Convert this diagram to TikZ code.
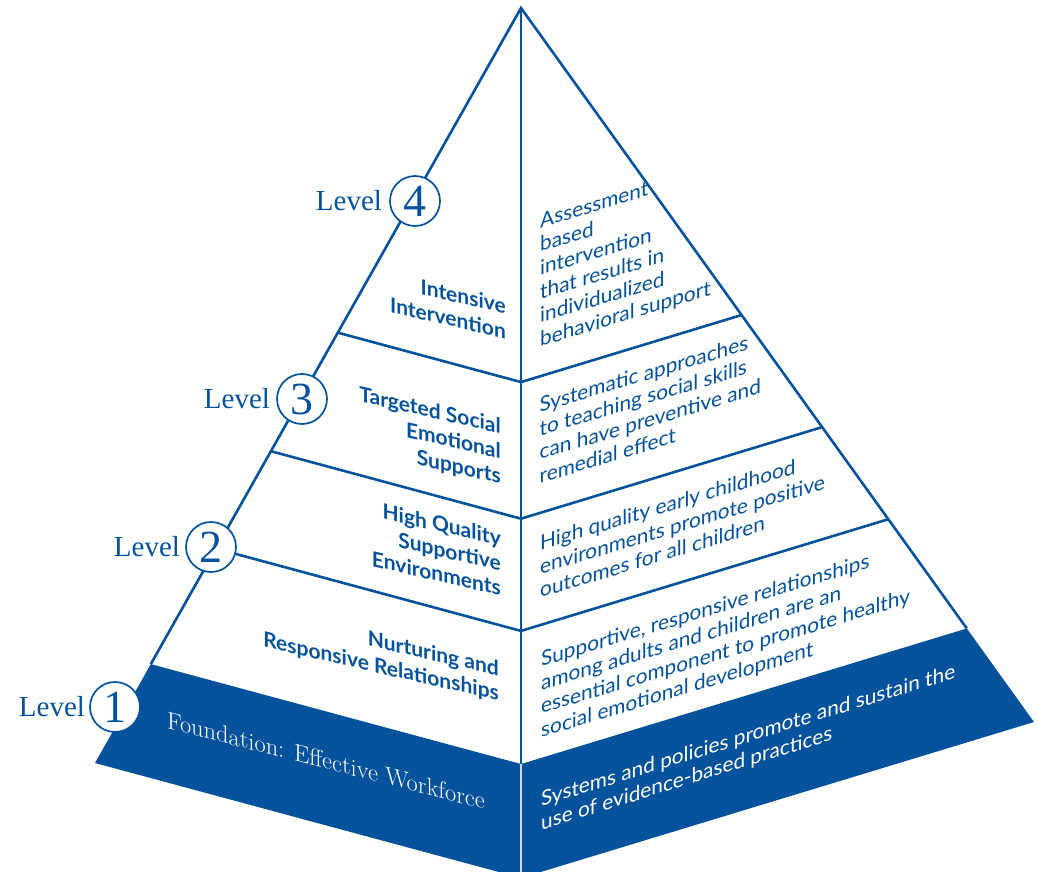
\documentclass[tikz,border=0pt]{standalone}
\usepackage{fontspec}
\setsansfont{Lato}
\newfontfamily\levelfont{Liberation Serif}
\usetikzlibrary{calc,positioning}
\definecolor{pyrblue}{RGB}{5,82,156}
\tikzset{
  edge/.style={draw=pyrblue, line width=2.6pt, line join=miter},
  levelnum/.style={circle, draw=pyrblue, fill=white, line width=1.7pt, minimum size=50pt, inner sep=0pt, text=pyrblue, font=\levelfont\fontsize{46}{46}\selectfont},
  leveltext/.style={text=pyrblue, inner sep=0pt, font=\levelfont\fontsize{29}{30}\selectfont},
  tiername/.style={text=pyrblue, inner sep=0pt, align=right, anchor=north east, yslant=-0.23, font=\sffamily\bfseries\fontsize{21}{25}\selectfont},
  tierinfo/.style={text=pyrblue, inner sep=0pt, align=left, anchor=north west, yslant=#1, font=\sffamily\fontsize{20.8}{23.7}\selectfont},
  tierinfo/.default=0.3,
}
\begin{document}
\begin{tikzpicture}[x=1pt, y=-1pt]
    \useasboundingbox (0,0) rectangle (1038,872);

    % Corners
    \coordinate (top) at (521,8);
    \coordinate (left) at (95,763);
    \coordinate (front) at (521,878);
    \coordinate (right) at (1034,722);

    % Foundation
    \fill[pyrblue] ($(top)!0.869!(left)$) -- (left) -- (front) -- ($(top)!0.869!(front)$) -- cycle;
    \fill[pyrblue] ($(top)!0.869!(front)$) -- (front) -- (right) -- ($(top)!0.869!(right)$) -- cycle;
    \draw[white!80!pyrblue, line width=1.2pt] ($(top)!0.869!(front)$) -- (front);

    % Outline
    \draw[edge] ($(top)!0.869!(left)$) -- (top) -- ($(top)!0.869!(right)$);
    \draw[edge] (top) -- ($(top)!0.869!(front)$);

    % Tiers
    \foreach \t in {0.43,0.587,0.716}
        \draw[edge] ($(top)!\t!(left)$) -- ($(top)!\t!(front)$) -- ($(top)!\t!(right)$);

    % Levels
    \node[levelnum] (n4) at (415,201) {4};
    \node[leveltext, left=7pt of n4] (l4) {Level};
    \node[levelnum] (n3) at (302,399) {3};
    \node[leveltext, left=6pt of n3] (l3) {Level};
    \node[levelnum] (n2) at (211,547) {2};
    \node[leveltext, left=5pt of n2] (l2) {Level};
    \node[levelnum] (n1) at (115,707) {1};
    \node[leveltext, left=4pt of n1] (l1) {Level};

    % Names of the tiers
    \node[tiername] (name4) at (506,298) {Intensive\\Intervention};
    \node[tiername] (name3) at (501,418) {Targeted Social\\Emotional\\Supports};
    \node[tiername] (name2) at (501,530) {High Quality\\Supportive\\Environments};
    \node[tiername] (name1) at (499,660) {Nurturing and\\Responsive Relationships};
    \node[text=white, inner sep=0pt, anchor=north west, yslant=-0.255, font=\fontsize{24.4}{28}\selectfont] (name0) at (167,711) {Foundation: Effective Workforce};

    % What each tier does
    \node[tierinfo] (info4) at (540,213) {Assessment\\based\\intervention\\that results in\\individualized\\behavioral support};
    \node[tierinfo] (info3) at (539.5,397) {Systematic approaches\\to teaching social skills\\can have preventive and\\remedial effect};
    \node[tierinfo] (info2) at (540,535) {High quality early childhood\\environments promote positive\\outcomes for all children};
    \node[tierinfo] (info1) at (541,651) {Supportive, responsive relationships\\among adults and children are an\\essential component to promote healthy\\social emotional development};
    \node[tierinfo=0.31, text=white] (info0) at (541,791) {Systems and policies promote and sustain the\\use of evidence-based practices};
\end{tikzpicture}
\end{document}
